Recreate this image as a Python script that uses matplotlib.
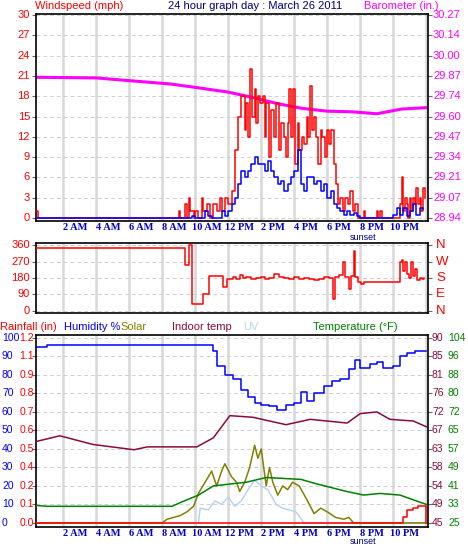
import matplotlib
matplotlib.use("Agg")
import matplotlib.pyplot as plt
import matplotlib.transforms as mtrans
import numpy as np

# ---------------- data ----------------
hour_ticks = [2, 4, 6, 8, 10, 12, 14, 16, 18, 20, 22]
hour_labels = ["2 AM", "4 AM", "6 AM", "8 AM", "10 AM", "12 PM", "2 PM", "4 PM", "6 PM", "8 PM", "10 PM"]
sunset_hour = 19.95

gust_t = [0.36, 0.5, 9.0, 9.1, 9.4, 9.5, 9.6, 9.7, 9.9, 10.0, 10.2, 10.4, 10.5, 10.7, 10.9, 11.1, 11.3, 11.5, 11.6,
          11.8, 12.0, 12.2, 12.4, 12.6, 12.8, 13.0, 13.1, 13.2, 13.3, 13.45, 13.6, 13.7, 13.8, 13.95, 14.1, 14.2,
          14.3, 14.45, 14.6, 14.75, 14.9, 15.05, 15.2, 15.35, 15.5, 15.6, 15.7, 15.8, 15.95, 16.05, 16.2, 16.3,
          16.45, 16.6, 16.75, 16.85, 16.95, 17.1, 17.2, 17.3, 17.45, 17.6, 17.7, 17.85, 18.0, 18.1, 18.25, 18.4,
          18.55, 18.65, 18.8, 18.95, 19.1, 19.25, 19.4, 19.55, 19.7, 19.85, 20.2, 20.3, 21.0, 21.1, 21.2, 21.3,
          22.4, 22.5, 22.6, 22.7, 22.8, 22.9, 23.0, 23.1, 23.2, 23.3, 23.4, 23.5, 23.6, 23.7, 23.8, 23.9]
gust_v = [1, 0, 1, 0, 2, 0, 3, 1, 0, 1, 0, 3, 1, 2, 0, 2, 1, 3, 1,
          3, 2, 4, 10, 15, 18, 13, 17, 12, 22, 15, 19, 14, 18, 17, 18, 12,
          17, 9, 16, 12, 17, 10, 14, 12, 9, 14, 19, 12, 19, 8, 14, 10,
          12, 11, 15, 12, 19.5, 13, 15, 12, 8, 13, 12, 9, 13, 11,
          13, 8, 5, 2, 3, 1, 3, 2, 4, 1, 2, 0, 1, 0, 1, 0, 1, 0,
          2, 6, 1, 3, 2, 0, 3, 1, 3, 2, 4.5, 2, 3, 1, 4.5, 3]
avg_t = [0.36, 9.8, 10.0, 10.6, 10.8, 11.0, 11.6, 11.8, 12.0, 12.2, 12.4, 12.6, 12.8, 13.0, 13.2, 13.4, 13.6, 13.8,
         14.0, 14.2, 14.4, 14.6, 14.8, 15.0, 15.2, 15.4, 15.6, 15.8, 16.0, 16.2, 16.4, 16.6, 16.8, 17.0, 17.2,
         17.4, 17.6, 17.8, 18.0, 18.2, 18.4, 18.6, 18.8, 19.0, 19.2, 19.4, 19.6, 19.8, 20.0, 22.0, 22.2, 22.4,
         22.6, 22.8, 23.0, 23.2, 23.4, 23.6, 23.8]
avg_v = [0, 0.3, 0, 1, 0.3, 0, 1, 0.3, 1, 2, 3, 5, 7, 6, 7, 8, 9, 8,
         8, 7, 8.5, 7, 6, 5, 5.5, 4, 5, 6, 7, 10, 5, 4, 6, 6, 5,
         5.5, 4, 5, 3, 4, 2, 1.5, 1, 0.5, 1, 0.5, 0.8, 0.3, 0, 0.5, 1.5, 0.5,
         1.5, 0.3, 1, 2, 0.5, 1.5, 1.3]
baro_t = [0.36, 4, 6, 8.5, 10, 12, 13.5, 15, 16.5, 18, 19.5, 21, 22.5, 24]
baro_v = [29.862, 29.858, 29.840, 29.818, 29.796, 29.765, 29.729, 29.689, 29.658, 29.640, 29.636, 29.623, 29.654, 29.663]
baro_labels = ["28.94", "29.07", "29.21", "29.34", "29.47", "29.60", "29.74", "29.87", "30.00", "30.14", "30.27"]

dir_t = [0.36, 9.4, 9.6, 9.8, 10.5, 10.85, 11.7, 11.95, 12.3, 12.5, 12.7, 12.9, 13.1, 13.4, 13.7, 14.0, 14.2, 14.5,
         14.8, 15.1, 15.4, 15.7, 16.0, 16.3, 16.6, 16.9, 17.2, 17.5, 17.8, 18.1, 18.35, 18.45, 18.7, 18.95, 19.05,
         19.3, 19.45, 19.6, 19.7, 19.85, 20.05, 20.2, 22.4, 22.5, 22.6, 22.7, 22.8, 22.95, 23.1, 23.2, 23.3, 23.45,
         23.6, 23.75, 23.85]
dir_v = [345, 250, 360, 40, 90, 190, 130, 175, 185, 175, 195, 180, 185, 175, 180, 185, 175, 180,
         200, 185, 180, 175, 185, 175, 180, 175, 170, 175, 185, 180, 65, 185, 195, 265, 185,
         120, 190, 330, 185, 160, 145, 160, 270, 280, 220, 270, 200, 180, 270, 190, 230, 170,
         180, 175, 180]
dir_labels = ["N", "E", "S", "W", "N"]

hum_t = [0.36, 1.0, 10.8, 11.1, 11.3, 11.8, 12.3, 12.8, 13.2, 13.6, 14.0, 14.5, 14.95, 15.5, 16.0, 16.4, 16.8, 17.2,
         17.8, 18.3, 18.8, 19.3, 19.7, 20.0, 20.6, 21.0, 21.4, 22.0, 22.4, 22.8, 23.3, 24]
hum_v = [95, 96, 96, 93, 85, 80, 78, 72, 68, 65, 64, 63, 61, 64, 65, 71, 66, 70,
         74, 77, 78, 83, 88, 84, 86, 87, 84, 85, 90, 92, 93, 93]
indoor_t = [0.36, 1.8, 3.8, 6.3, 7.1, 10.1, 11.1, 12.1, 13.5, 15.5, 16.97, 19.2, 20.0, 21.0, 21.8, 23.2, 24]
indoor_v = [64.8, 66.2, 64.1, 62.8, 63.5, 63.5, 65.7, 71.1, 70.7, 68.9, 70.2, 69.3, 71.6, 72.0, 70.2, 69.8, 68.4]
temp_t = [0.36, 1.0, 8.6, 9.1, 10.2, 11.1, 12.1, 13.1, 14.3, 16.4, 17.4, 19.2, 20.2, 21.2, 22.4, 24]
temp_v = [32.5, 32.1, 32.1, 33.7, 36.9, 40.8, 41.6, 42.4, 44.4, 43.6, 41.6, 38.4, 36.9, 37.6, 36.9, 32.9]
solar_t = [0.36, 8.0, 8.3, 9.1, 9.5, 9.9, 10.2, 10.6, 11.0, 11.3, 11.6, 11.8, 12.2, 12.5, 12.7, 13.0, 13.3, 13.6,
           13.8, 14.0, 14.3, 14.5, 14.7, 15.0, 15.3, 15.6, 15.9, 16.3, 16.8, 17.2, 17.6, 18.0, 18.5, 19.0, 19.3, 19.6, 24]
solar_v = [0, 0, 2, 4, 6, 9, 16, 22, 28, 20, 28, 32, 25, 22, 17, 22, 30, 42,
           35, 40, 20, 30, 22, 15, 20, 18, 22, 20, 12, 5, 8, 6, 3, 2, 3, 0, 0]
uv_t = [0.36, 10.2, 10.3, 10.8, 11.2, 11.6, 12.0, 12.4, 12.8, 13.2, 13.6, 14.0, 14.4, 14.9, 15.3, 15.7, 16.1, 16.6, 24]
uv_v = [0, 0, 8, 7, 12, 10, 14, 9, 12, 18, 23, 20, 18, 10, 8, 7, 6, 0, 0]
rain_t = [0.36, 22.4, 22.6, 22.8, 23.2, 23.5, 23.95, 24]
rain_v = [0, 0, 0.036, 0.084, 0.096, 0.108, 0.108, 0]

hum_labels = ["0", "10", "20", "30", "40", "50", "60", "70", "80", "90", "100"]
rain_labels = ["0.0", "0.1", "0.2", "0.4", "0.5", "0.6", "0.7", "0.8", "0.9", "1.1", "1.2"]
indoor_labels = ["45", "49", "54", "58", "63", "67", "72", "76", "81", "85", "90"]
temp_labels = ["25", "33", "41", "49", "57", "65", "72", "80", "88", "96", "104"]

# ---------------- style ----------------
RED = "#ff0000"; BLUE = "#0000ff"; MAG = "#ff00ff"; OLIVE = "#808000"
MAROON = "#8b0a3a"; GREEN = "#008000"; UVC = "#b8d4f4"; NAVY = "#000080"
FS = 8
plt.rcParams['font.family'] = ['Liberation Sans', 'DejaVu Sans']

W, H = 468, 559
fig = plt.figure(figsize=(W / 100, H / 100), dpi=100)
fig.patch.set_facecolor("white")

def px_axes(top, bottom):
    return fig.add_axes([36 / W, 1 - bottom / H, (428 - 36) / W, (bottom - top) / H])

def style(ax, ylim, yt):
    ax.set_xlim(0.36, 24.1)
    ax.set_ylim(*ylim)
    for h in range(2, 25, 2):
        ax.axvline(h, color="#d8d8d8", lw=1.8, zorder=0)
    for y in yt:
        ax.axhline(y, color="#d0d0d0", lw=0.7, ls=(0, (4, 3)), zorder=0)
    ax.set_yticks(yt)
    ax.set_yticklabels([])
    ax.set_xticks([])
    ax.tick_params(axis='y', length=3, width=0.8, colors="#666666", right=True)
    for s in ax.spines.values():
        s.set_linewidth(1.2)

def hour_axis(ax, ypx):
    for h, lab in zip(hour_ticks, hour_labels):
        x = 30 + 16.5 * h + 12
        fig.text(x / W, 1 - ypx / H, lab, family="Liberation Serif", weight="bold", fontsize=7.5,
                 color="#0000cc", ha="center", va="center")
    fig.text((30 + 16.5 * sunset_hour + 4) / W, 1 - (ypx + 9) / H, "sunset", fontsize=6.5, color=NAVY,
             ha="center", va="center")

# ---------- panel 1 ----------
ax1 = px_axes(14, 221)
wt = list(range(0, 31, 3))
style(ax1, (-0.44, 30.15), wt)
baro_w = (np.array(baro_v) - 28.94) / (1.33 / 30)
ax1.plot(baro_t, baro_w, color=MAG, lw=2.2, zorder=2)
ax1.step(gust_t, gust_v, where="post", color=RED, lw=1.1, zorder=3)
ax1.step(avg_t, avg_v, where="post", color=BLUE, lw=1.1, zorder=4)
bl = mtrans.blended_transform_factory(fig.transFigure, ax1.transData)
for y in wt:
    ax1.text(30 / W, y, str(y), transform=bl, ha="right", va="center", color=RED, fontsize=FS)
for y, lab in zip(wt, baro_labels):
    ax1.text(433 / W, y, lab, transform=bl, ha="left", va="center", color=MAG, fontsize=FS)
hour_axis(ax1, 228)
fig.text(35 / W, 1 - 6 / H, "Windspeed (mph)", color=RED, fontsize=FS, va="center")
fig.text(255 / W, 1 - 6 / H, "24 hour graph day : March 26 2011", color=NAVY, fontsize=FS, va="center", ha="center")
fig.text(439 / W, 1 - 6 / H, "Barometer (in.)", color=MAG, fontsize=FS, va="center", ha="right")

# ---------- panel 2 ----------
ax2 = px_axes(243, 313)
dt = [0, 90, 180, 270, 360]
style(ax2, (-11, 371), dt)
ax2.step(dir_t, dir_v, where="post", color=RED, lw=1.1, zorder=3)
bl2 = mtrans.blended_transform_factory(fig.transFigure, ax2.transData)
for y in dt:
    ax2.text(30 / W, y, str(y), transform=bl2, ha="right", va="center", color=RED, fontsize=FS)
for y, lab in zip(dt, dir_labels):
    ax2.text(436 / W, y, lab, transform=bl2, ha="left", va="center", color=RED, fontsize=9.5)

# ---------- panel 3 ----------
ax3 = px_axes(335, 527)
ht = list(range(0, 101, 10))
style(ax3, (-2.2, 101.6), ht)
ax3.step(hum_t, hum_v, where="post", color=BLUE, lw=1.1, zorder=3)
ax3.plot(indoor_t, (np.array(indoor_v) - 45) / 0.45, color=MAROON, lw=1.1, zorder=3)
ax3.plot(solar_t, solar_v, color=OLIVE, lw=1.1, zorder=3)
ax3.plot(uv_t, uv_v, color=UVC, lw=1.1, zorder=2)
ax3.plot(temp_t, (np.array(temp_v) - 25) / 0.79, color=GREEN, lw=1.1, zorder=3)
ax3.step(rain_t, np.array(rain_v) / 0.012, where="post", color=RED, lw=1.1, zorder=4)
bl3 = mtrans.blended_transform_factory(fig.transFigure, ax3.transData)
for y, a, b, c, d in zip(ht, hum_labels, rain_labels, indoor_labels, temp_labels):
    ax3.text(2 / W, y, a, transform=bl3, ha="left", va="center", color=BLUE, fontsize=7.5)
    ax3.text(34 / W, y, b, transform=bl3, ha="right", va="center", color=RED, fontsize=7.5)
    ax3.text(432 / W, y, c, transform=bl3, ha="left", va="center", color=MAROON, fontsize=7.5)
    ax3.text(448 / W, y, d, transform=bl3, ha="left", va="center", color=GREEN, fontsize=7.5)
hour_axis(ax3, 533)
for x, lab, col in [(0, "Rainfall (in)", RED), (64, "Humidity %", BLUE), (120, "Solar", OLIVE),
                    (172, "Indoor temp", MAROON), (243, "UV", UVC), (313, "Temperature (°F)", GREEN)]:
    fig.text(x / W, 1 - 327 / H, lab, color=col, fontsize=FS, va="center")

fig.savefig("out.png", dpi=100, facecolor="white")
